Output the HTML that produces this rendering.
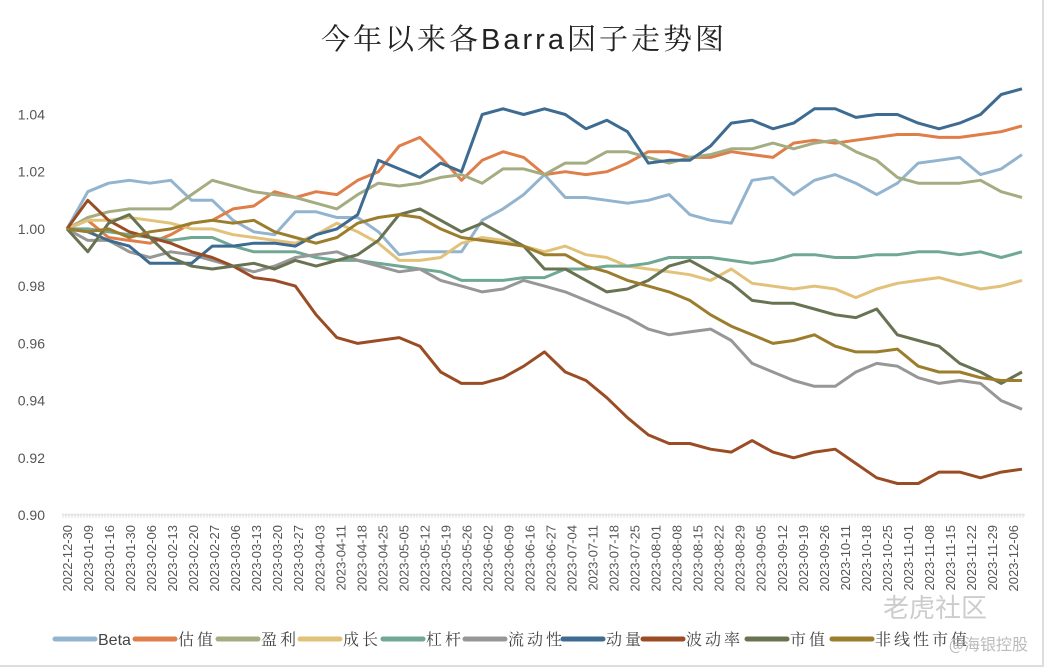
<!DOCTYPE html>
<html><head><meta charset="utf-8">
<style>
body{margin:0;background:#fff;width:1048px;height:669px;overflow:hidden;font-family:"Liberation Sans","Noto Sans CJK SC",sans-serif;}
#frame{position:absolute;left:0;top:0;width:1042px;height:665px;border-right:2px solid #ddd;border-bottom:2px solid #ddd;}
</style></head>
<body>
<div id="frame"></div>
<svg id="chart" width="1048" height="669" style="position:absolute;left:0;top:0">
<text x="524" y="49" text-anchor="middle" font-family="'Liberation Sans','Noto Serif CJK SC',serif" font-size="29" fill="#222" letter-spacing="3">今年以来各Barra因子走势图</text>
</svg>
<script>
const xLabels=["2022-12-30","2023-01-09","2023-01-16","2023-01-30","2023-02-06","2023-02-13","2023-02-20","2023-02-27","2023-03-06","2023-03-13","2023-03-20","2023-03-27","2023-04-03","2023-04-11","2023-04-18","2023-04-25","2023-05-05","2023-05-12","2023-05-19","2023-05-26","2023-06-02","2023-06-09","2023-06-16","2023-06-27","2023-07-04","2023-07-11","2023-07-18","2023-07-25","2023-08-01","2023-08-08","2023-08-15","2023-08-22","2023-08-29","2023-09-05","2023-09-12","2023-09-19","2023-09-26","2023-10-11","2023-10-18","2023-10-25","2023-11-01","2023-11-08","2023-11-15","2023-11-22","2023-11-29","2023-12-06"];
const yTicks=[0.90,0.92,0.94,0.96,0.98,1.00,1.02,1.04];
const seriesNames=["Beta","估值","盈利","成长","杠杆","流动性","动量","波动率","市值","非线性市值"];
const seriesColors=["#93b4cf","#e07e4a","#a4ad82","#e2c27a","#70a894","#979797","#3e6b91","#9a4d25","#687352","#9b7d2c"];
const beta=[1.000,1.013,1.016,1.017,1.016,1.017,1.010,1.010,1.003,0.999,0.998,1.006,1.006,1.004,1.004,0.999,0.991,0.992,0.992,0.992,1.003,1.007,1.012,1.019,1.011,1.011,1.010,1.009,1.010,1.012,1.005,1.003,1.002,1.017,1.018,1.012,1.017,1.019,1.016,1.012,1.016,1.023,1.024,1.025,1.019,1.021,1.026];
const valuation=[1.000,1.003,0.997,0.996,0.995,0.998,1.002,1.003,1.007,1.008,1.013,1.011,1.013,1.012,1.017,1.020,1.029,1.032,1.025,1.017,1.024,1.027,1.025,1.019,1.020,1.019,1.020,1.023,1.027,1.027,1.025,1.025,1.027,1.026,1.025,1.030,1.031,1.030,1.031,1.032,1.033,1.033,1.032,1.032,1.033,1.034,1.036];
const profit=[1.000,1.004,1.006,1.007,1.007,1.007,1.012,1.017,1.015,1.013,1.012,1.011,1.009,1.007,1.012,1.016,1.015,1.016,1.018,1.019,1.016,1.021,1.021,1.019,1.023,1.023,1.027,1.027,1.025,1.023,1.025,1.026,1.028,1.028,1.030,1.028,1.030,1.031,1.027,1.024,1.018,1.016,1.016,1.016,1.017,1.013,1.011];
const growth=[1.000,1.003,1.003,1.004,1.003,1.002,1.000,1.000,0.998,0.997,0.996,0.995,0.998,1.002,0.999,0.995,0.989,0.989,0.990,0.995,0.997,0.996,0.994,0.992,0.994,0.991,0.990,0.987,0.986,0.985,0.984,0.982,0.986,0.981,0.980,0.979,0.980,0.979,0.976,0.979,0.981,0.982,0.983,0.981,0.979,0.980,0.982];
const leverage=[1.000,1.000,0.999,0.998,0.997,0.996,0.997,0.997,0.994,0.992,0.992,0.992,0.990,0.989,0.989,0.988,0.987,0.986,0.985,0.982,0.982,0.982,0.983,0.983,0.986,0.986,0.987,0.987,0.988,0.990,0.990,0.990,0.989,0.988,0.989,0.991,0.991,0.990,0.990,0.991,0.991,0.992,0.992,0.991,0.992,0.990,0.992];
const liquidity=[1.000,0.996,0.996,0.992,0.990,0.992,0.991,0.989,0.987,0.985,0.987,0.990,0.991,0.992,0.989,0.987,0.985,0.986,0.982,0.980,0.978,0.979,0.982,0.980,0.978,0.975,0.972,0.969,0.965,0.963,0.964,0.965,0.961,0.953,0.950,0.947,0.945,0.945,0.950,0.953,0.952,0.948,0.946,0.947,0.946,0.940,0.937];
const momentum=[1.000,0.999,0.996,0.994,0.988,0.988,0.988,0.994,0.994,0.995,0.995,0.994,0.998,1.000,1.005,1.024,1.021,1.018,1.023,1.020,1.040,1.042,1.040,1.042,1.040,1.035,1.038,1.034,1.023,1.024,1.024,1.029,1.037,1.038,1.035,1.037,1.042,1.042,1.039,1.040,1.040,1.037,1.035,1.037,1.040,1.047,1.049];
const volatility=[1.000,1.010,1.003,0.999,0.997,0.995,0.992,0.990,0.987,0.983,0.982,0.980,0.970,0.962,0.960,0.961,0.962,0.959,0.950,0.946,0.946,0.948,0.952,0.957,0.950,0.947,0.941,0.934,0.928,0.925,0.925,0.923,0.922,0.926,0.922,0.920,0.922,0.923,0.918,0.913,0.911,0.911,0.915,0.915,0.913,0.915,0.916];
const size=[1.000,0.992,1.002,1.005,0.997,0.990,0.987,0.986,0.987,0.988,0.986,0.989,0.987,0.989,0.991,0.996,1.005,1.007,1.003,0.999,1.002,0.998,0.994,0.986,0.986,0.982,0.978,0.979,0.982,0.987,0.989,0.985,0.981,0.975,0.974,0.974,0.972,0.970,0.969,0.972,0.963,0.961,0.959,0.953,0.950,0.946,0.950];
const nlsize=[1.000,0.999,1.000,0.997,0.999,1.000,1.002,1.003,1.002,1.003,0.999,0.997,0.995,0.997,1.002,1.004,1.005,1.004,1.000,0.997,0.996,0.995,0.994,0.991,0.991,0.987,0.985,0.982,0.980,0.978,0.975,0.970,0.966,0.963,0.960,0.961,0.963,0.959,0.957,0.957,0.958,0.952,0.950,0.950,0.948,0.947,0.947];
const allSeries=[beta,valuation,profit,growth,leverage,liquidity,momentum,volatility,size,nlsize];
const seriesKeys=["beta","valuation","profit","growth","leverage","liquidity","momentum","volatility","size","nonlinear-size"];

const NS="http://www.w3.org/2000/svg";
const svg=document.getElementById('chart');
const X0=67,X1=1022,YB=515,YT=114.5,VMIN=0.90,VMAX=1.04;
function yScale(v){return YB-(v-VMIN)/(VMAX-VMIN)*(YB-YT);}
function xScale(i,n){return X0+i*(X1-X0)/(n-1);}
function mk(tag,attrs){const e=document.createElementNS(NS,tag);for(const k in attrs)e.setAttribute(k,attrs[k]);svg.appendChild(e);return e;}

const ax=mk('line',{x1:62,y1:YB,x2:1025,y2:YB,stroke:'#d9d9d9','stroke-width':1});


for(let x=63;x<=1024;x+=3){const t=mk('line',{x1:x,y1:YB-2,x2:x,y2:YB+3,stroke:'#e2e2e2','stroke-width':1});

}

yTicks.forEach(v=>{const t=mk('text',{x:45,y:yScale(v)+5,'text-anchor':'end','font-size':14,fill:'#555','font-family':'"Liberation Sans",sans-serif'});
t.textContent=v.toFixed(2);

});

const nL=xLabels.length;
xLabels.forEach((lab,i)=>{const x=67+i*(1013-67)/(nL-1);
const t=mk('text',{x:0,y:0,transform:`translate(${x+5},525) rotate(-90)`,'text-anchor':'end','font-size':13,fill:'#555','font-family':'"Liberation Sans",sans-serif'});
t.textContent=lab;

});

allSeries.forEach((arr,s)=>{const pts=arr.map((v,i)=>xScale(i,arr.length).toFixed(1)+','+yScale(v).toFixed(1)).join(' ');
const p=mk('polyline',{points:pts,fill:'none',stroke:seriesColors[s],'stroke-width':3,'stroke-linejoin':'round'});

});

const legendX=[55,135,218,300,383,465,563,643,747,832];
seriesNames.forEach((nm,s)=>{const lx=legendX[s];
const l=mk('line',{x1:lx,y1:639,x2:lx+40,y2:639,stroke:seriesColors[s],'stroke-width':5,'stroke-linecap':'round'});


const t=mk('text',{x:lx+43,y:645,'font-size':16,fill:'#444','font-family':'"Liberation Sans","Noto Serif CJK SC",serif','letter-spacing':s===0?0:3});
t.textContent=nm;

});

const wm=mk('text',{x:935,y:617,'text-anchor':'middle','font-size':26,fill:'#ccc','font-family':'"Noto Sans CJK SC",sans-serif'});
wm.textContent='老虎社区';


const wm2=mk('text',{x:1028,y:650,'text-anchor':'end','font-size':16,fill:'#bbb','font-family':'"Noto Sans CJK SC",sans-serif'});
wm2.textContent='@海银控股';


</script>
</body></html>
